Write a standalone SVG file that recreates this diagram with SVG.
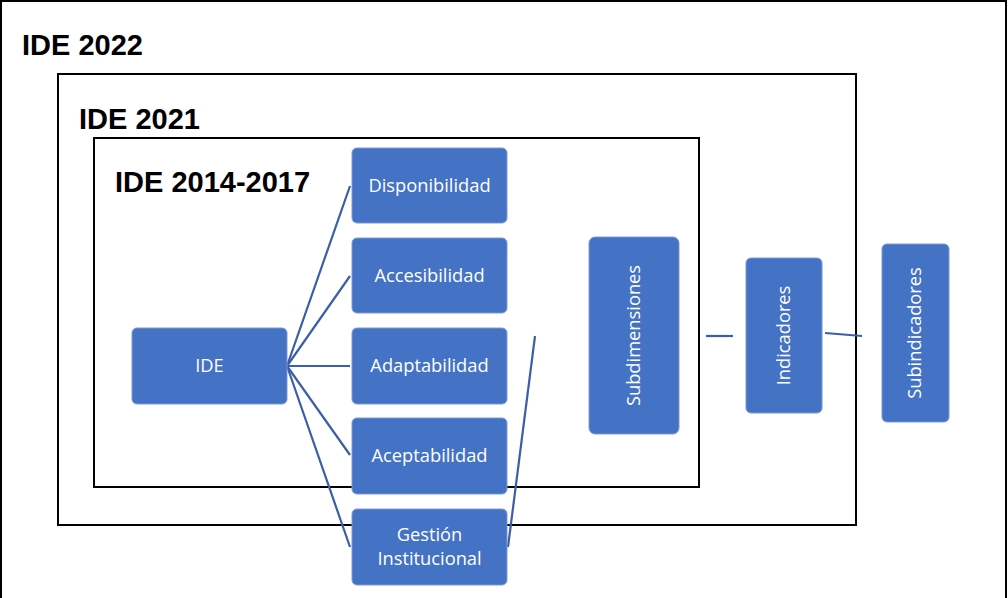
<svg xmlns="http://www.w3.org/2000/svg" width="1008" height="598" viewBox="0 0 1008 598">
<style>
.frame{fill:none;stroke:#000;stroke-width:2}
.title{font-family:"Liberation Sans",Arial,sans-serif;font-weight:bold;font-size:29px;fill:#000}
.node rect{fill:#4472C4;stroke:#7a9ad6;stroke-width:1}
.node text{font-family:"Open Sans","Noto Sans",sans-serif;font-size:18.3px;fill:#fff;text-anchor:middle}
.conn line{stroke:#3a5fa8;stroke-width:2.2}
</style>
<rect width="1008" height="598" fill="#fff"/>
<g id="frame-2022">
<rect class="frame" x="1" y="1" width="1005" height="600"/>
<text class="title" x="22" y="55">IDE 2022</text>
</g>
<g id="frame-2021">
<rect class="frame" x="58" y="74" width="798" height="451"/>
<text class="title" x="79" y="129">IDE 2021</text>
</g>
<g id="frame-2014">
<rect class="frame" x="94" y="138" width="605" height="349"/>
<text class="title" x="115" y="192">IDE 2014-2017</text>
</g>
<g class="conn" id="connectors">
<line x1="287" y1="366" x2="350" y2="186"/>
<line x1="287" y1="366" x2="350" y2="276"/>
<line x1="287" y1="366" x2="350" y2="366"/>
<line x1="287" y1="366" x2="350" y2="455"/>
<line x1="287" y1="366" x2="350" y2="547"/>
<line x1="508" y1="547" x2="535" y2="336"/>
<line x1="706" y1="336" x2="733" y2="336"/>
<line x1="825" y1="333" x2="862" y2="336"/>
</g>
<g class="node" id="n-ide"><rect x="132" y="328" width="155" height="76" rx="5"/><text x="209.5" y="372">IDE</text></g>
<g class="node" id="n-disp"><rect x="352" y="148" width="155" height="75" rx="5"/><text x="429.5" y="192">Disponibilidad</text></g>
<g class="node" id="n-acc"><rect x="352" y="238" width="155" height="75" rx="5"/><text x="429.5" y="282">Accesibilidad</text></g>
<g class="node" id="n-adap"><rect x="352" y="328" width="155" height="76" rx="5"/><text x="429.5" y="372">Adaptabilidad</text></g>
<g class="node" id="n-acep"><rect x="352" y="418" width="155" height="76" rx="5"/><text x="429.5" y="462">Aceptabilidad</text></g>
<g class="node" id="n-gest"><rect x="352" y="509" width="155" height="76" rx="5"/><text x="429.5" y="541">Gestión</text><text x="429.5" y="565">Institucional</text></g>
<g class="node" id="n-subdim"><rect x="589" y="237" width="90" height="197" rx="6"/><text transform="translate(640,335.5) rotate(-90)">Subdimensiones</text></g>
<g class="node" id="n-ind"><rect x="746" y="258" width="76" height="155" rx="5"/><text transform="translate(790,335.5) rotate(-90)">Indicadores</text></g>
<g class="node" id="n-subind"><rect x="882" y="244" width="67" height="178" rx="5"/><text transform="translate(921,333) rotate(-90)">Subindicadores</text></g>
</svg>
